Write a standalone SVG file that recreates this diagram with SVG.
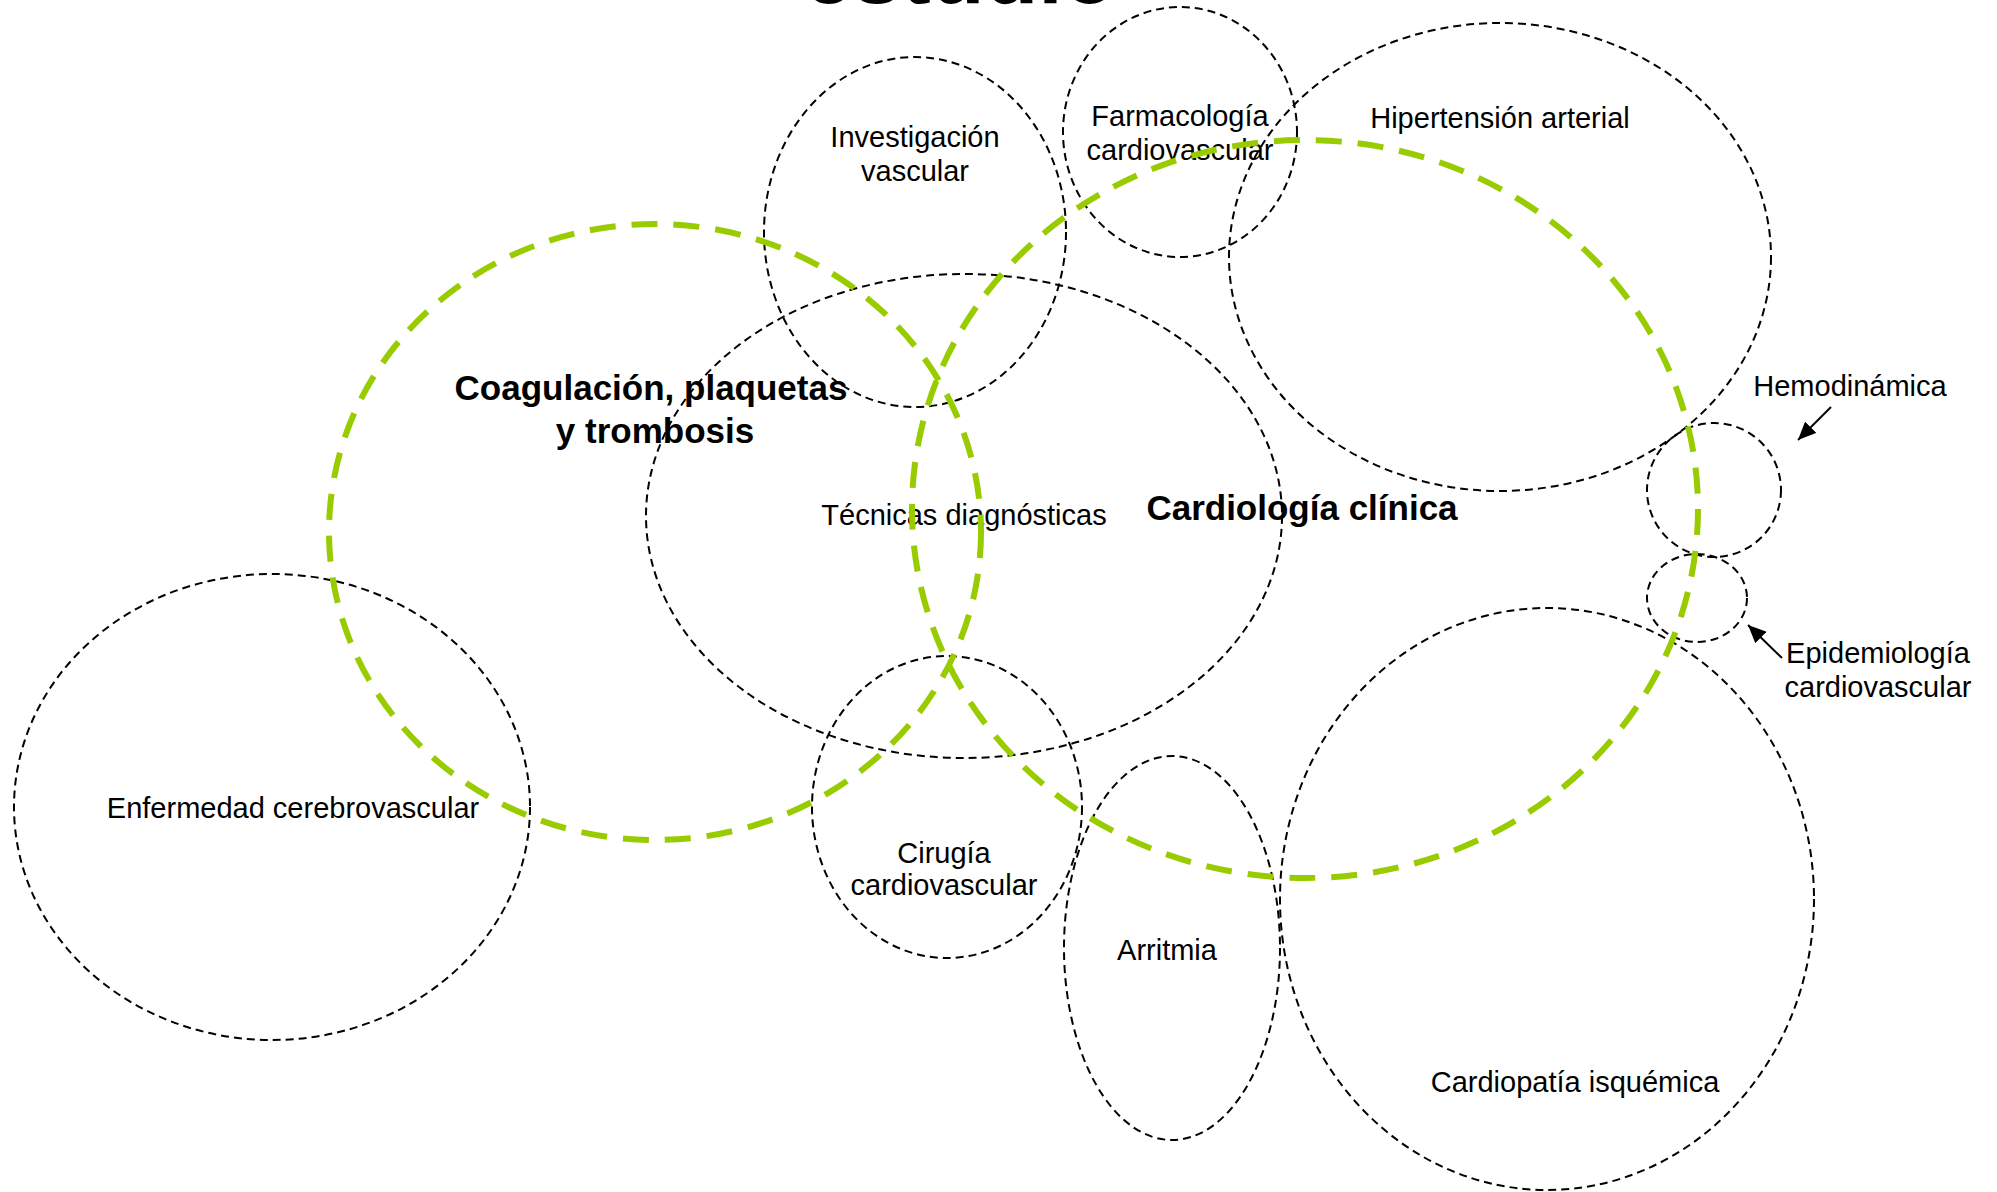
<svg xmlns="http://www.w3.org/2000/svg" width="1997" height="1192" viewBox="0 0 1997 1192">
<defs>
<style>
.area{fill:none;stroke:#000;stroke-width:2;stroke-dasharray:8 5}
.main{fill:none;stroke:#99CC00;stroke-width:6;stroke-dasharray:26 16}
.lbl{font-family:"Liberation Sans",Arial,sans-serif;font-size:29px;fill:#000;text-anchor:middle}
.big{font-family:"Liberation Sans",Arial,sans-serif;font-size:35px;font-weight:bold;fill:#000;text-anchor:middle}
.title{font-family:"Liberation Sans",Arial,sans-serif;font-size:88px;font-weight:bold;fill:#000;text-anchor:middle}
.conn{stroke:#000;stroke-width:2;fill:none}
</style>
<marker id="arrow" markerUnits="userSpaceOnUse" markerWidth="20" markerHeight="16" refX="18" refY="8" orient="auto">
<path d="M0,0 L18,8 L0,16 Z" fill="#000"/>
</marker>
</defs>
<rect width="1997" height="1192" fill="#fff"/>
<text class="title" x="960" y="3">estudio</text>
<g id="enfermedad-cerebrovascular">
<ellipse class="area" cx="272" cy="807" rx="258" ry="233"/>
<text class="lbl" x="293" y="818">Enfermedad cerebrovascular</text>
</g>
<g id="investigacion-vascular">
<ellipse class="area" cx="915" cy="232" rx="151" ry="175"/>
<text class="lbl" x="915" y="147">Investigación</text>
<text class="lbl" x="915" y="181">vascular</text>
</g>
<g id="farmacologia-cardiovascular">
<ellipse class="area" cx="1180" cy="132" rx="117" ry="125"/>
<text class="lbl" x="1180" y="126">Farmacología</text>
<text class="lbl" x="1180" y="160">cardiovascular</text>
</g>
<g id="hipertension-arterial">
<ellipse class="area" cx="1500" cy="257" rx="271" ry="234"/>
<text class="lbl" x="1500" y="128">Hipertensión arterial</text>
</g>
<g id="tecnicas-diagnosticas">
<ellipse class="area" cx="964" cy="516" rx="318" ry="242"/>
<text class="lbl" x="964" y="525">Técnicas diagnósticas</text>
</g>
<g id="hemodinamica">
<ellipse class="area" cx="1714" cy="490" rx="67" ry="67"/>
<text class="lbl" x="1850" y="396">Hemodinámica</text>
</g>
<g id="epidemiologia-cardiovascular">
<ellipse class="area" cx="1697" cy="598" rx="50" ry="44"/>
<text class="lbl" x="1878" y="663">Epidemiología</text>
<text class="lbl" x="1878" y="697">cardiovascular</text>
</g>
<g id="cirugia-cardiovascular">
<ellipse class="area" cx="947" cy="807" rx="135" ry="151"/>
<text class="lbl" x="944" y="863">Cirugía</text>
<text class="lbl" x="944" y="895">cardiovascular</text>
</g>
<g id="arritmia">
<ellipse class="area" cx="1172" cy="948" rx="108" ry="192"/>
<text class="lbl" x="1167" y="960">Arritmia</text>
</g>
<g id="cardiopatia-isquemica">
<ellipse class="area" cx="1547" cy="899" rx="267" ry="291"/>
<text class="lbl" x="1575" y="1092">Cardiopatía isquémica</text>
</g>
<g id="coagulacion-plaquetas-trombosis">
<ellipse class="main" cx="655" cy="532" rx="326" ry="308"/>
<text class="big" x="651" y="400">Coagulación, plaquetas</text>
<text class="big" x="655" y="443">y trombosis</text>
</g>
<g id="cardiologia-clinica">
<ellipse class="main" cx="1305" cy="509" rx="393" ry="369"/>
<text class="big" x="1302" y="520">Cardiología clínica</text>
</g>
<g id="connectors">
<line class="conn" x1="1831" y1="407" x2="1798" y2="440" marker-end="url(#arrow)"/>
<line class="conn" x1="1782" y1="658" x2="1748" y2="625" marker-end="url(#arrow)"/>
</g>
</svg>
